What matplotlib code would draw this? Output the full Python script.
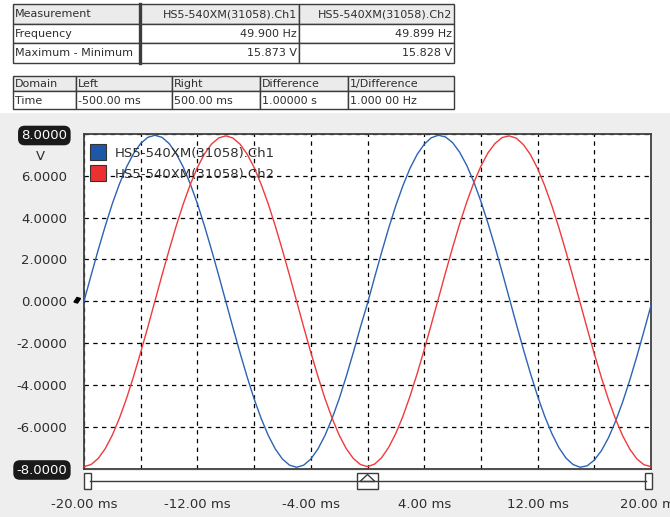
import numpy as np
import matplotlib.pyplot as plt
from matplotlib.patches import Rectangle, Polygon
from matplotlib.lines import Line2D

# Measurement tables
meas_header = ["Measurement", "HS5-540XM(31058).Ch1", "HS5-540XM(31058).Ch2"]
meas_rows = [
    ["Frequency", "49.900 Hz", "49.899 Hz"],
    ["Maximum - Minimum", "15.873 V", "15.828 V"],
]
cursor_header = ["Domain", "Left", "Right", "Difference", "1/Difference"]
cursor_row = ["Time", "-500.00 ms", "500.00 ms", "1.00000 s", "1.000 00 Hz"]

channel_names = ["HS5-540XM(31058).Ch1", "HS5-540XM(31058).Ch2"]

# Record: 81 samples, 0.5 ms apart, starting at -20 ms (values in V)
t_start_ms = -20.0
dt_ms = 0.5
ch1_volts = [
    0.00, 1.24, 2.45, 3.60, 4.67, 5.61, 6.42, 7.07, 7.55, 7.84, 7.94,
    7.84, 7.55, 7.07, 6.42, 5.61, 4.67, 3.60, 2.45, 1.24, 0.00,
    -1.24, -2.45, -3.60, -4.67, -5.61, -6.42, -7.07, -7.55, -7.84, -7.94,
    -7.84, -7.55, -7.07, -6.42, -5.61, -4.67, -3.60, -2.45, -1.24, -0.10,
    1.14, 2.35, 3.51, 4.58, 5.53, 6.36, 7.02, 7.51, 7.82, 7.94,
    7.86, 7.59, 7.13, 6.50, 5.71, 4.78, 3.73, 2.59, 1.39, 0.15,
    -1.09, -2.31, -3.46, -4.54, -5.50, -6.32, -7.00, -7.50, -7.81, -7.94,
    -7.87, -7.60, -7.15, -6.53, -5.74, -4.82, -3.78, -2.64, -1.44, -0.20,
]
ch2_volts = [
    -7.91, -7.81, -7.52, -7.05, -6.40, -5.59, -4.65, -3.59, -2.44, -1.24, 0.00,
    1.24, 2.44, 3.59, 4.65, 5.59, 6.40, 7.05, 7.52, 7.81, 7.91,
    7.81, 7.52, 7.05, 6.40, 5.59, 4.65, 3.59, 2.44, 1.24, 0.00,
    -1.24, -2.44, -3.59, -4.65, -5.59, -6.40, -7.05, -7.52, -7.81, -7.91,
    -7.79, -7.48, -6.98, -6.32, -5.50, -4.54, -3.47, -2.32, -1.11, 0.12,
    1.36, 2.56, 3.70, 4.74, 5.67, 6.46, 7.10, 7.55, 7.83, 7.91,
    7.80, 7.49, 7.01, 6.35, 5.53, 4.58, 3.52, 2.37, 1.16, -0.07,
    -1.31, -2.51, -3.65, -4.70, -5.64, -6.43, -7.07, -7.54, -7.82, -7.91,
]

x_ticks = [-20, -12, -4, 4, 12, 20]
x_grid = [-16, -8, 0, 8, 16]
y_ticks = [-8, -6, -4, -2, 0, 2, 4, 6, 8]

BLUE = "#2C63B4"
RED = "#F03A3A"
EDGE = "#3C3C3C"
TXT = "#2E2E2E"
BG = "#EEEEEE"

plt.rcParams["font.family"] = ["DejaVu Sans"]

fig = plt.figure(figsize=(6.7, 5.17), dpi=100, facecolor=BG)

# full-figure layer in pixel units for the tables and the slider
deco = fig.add_axes([0, 0, 1, 1], zorder=0)
deco.set_xlim(0, 670)
deco.set_ylim(517, 0)
deco.axis("off")
deco.add_patch(Rectangle((0, 0), 670, 113, facecolor="white", edgecolor="none"))


def draw_table(xs, ys, rows, aligns, thick_col=None, fs=8):
    for r, row in enumerate(rows):
        y0, y1 = ys[r], ys[r + 1]
        fill = "#EBEBEB" if r == 0 else "white"
        for c, text in enumerate(row):
            x0, x1 = xs[c], xs[c + 1]
            deco.add_patch(Rectangle((x0, y0), x1 - x0, y1 - y0,
                                     facecolor=fill, edgecolor=EDGE, lw=1.0))
            ha = aligns[r][c]
            tx = x0 + 2 if ha == "left" else x1 - 2
            deco.text(tx, (y0 + y1) / 2 + 0.5, text, ha=ha, va="center",
                      fontsize=fs, color=TXT)
    if thick_col is not None:
        deco.plot([xs[thick_col]] * 2, [ys[0], ys[-1]], color=EDGE, lw=2.4)


meas_aligns = [["left", "right", "right"]] * 3
draw_table([13, 140, 299, 454], [4, 23.5, 43, 62.5],
           [meas_header] + meas_rows, meas_aligns, thick_col=1)
cursor_aligns = [["left"] * 5] * 2
draw_table([13, 76, 172, 260, 348, 454], [76, 91, 109],
           [cursor_header, cursor_row], cursor_aligns)

# time slider under the graph
deco.add_patch(Rectangle((84, 471), 567, 19, facecolor="white", edgecolor="none"))
deco.plot([90, 646], [481, 481], color=EDGE, lw=1.0)
for hx in (84, 645):
    deco.add_patch(Rectangle((hx, 473), 6.5, 16, facecolor="white",
                             edgecolor=EDGE, lw=1.0))
deco.add_patch(Rectangle((357, 473), 21, 16, facecolor="white",
                         edgecolor=EDGE, lw=1.0))
deco.add_patch(Polygon([(360, 481.5), (367.5, 474.5), (375, 481.5)],
                       closed=True, fill=False, edgecolor=EDGE, lw=1.0))

# zero-level marker at the left of the graph
deco.add_patch(Polygon([(74, 302), (77, 297.5), (80.5, 298.5), (77.5, 303)],
                       closed=True, facecolor="black", edgecolor="black"))
deco.text(40, 157, "V", ha="center", va="center", fontsize=9.5, color=TXT)

# graph
W, H = 670.0, 517.0
ax = fig.add_axes([84 / W, (H - 468.5) / H, 567 / W, 334.5 / H], zorder=1)
ax.set_facecolor("white")

t = t_start_ms + dt_ms * np.arange(len(ch1_volts))
ax.plot(t, ch1_volts, color=BLUE, lw=1.0, zorder=3)
ax.plot(t, ch2_volts, color=RED, lw=1.0, zorder=3)

ax.set_xlim(-20, 20)
ax.set_ylim(-8, 8)
ax.set_xticks(x_ticks)
ax.set_xticklabels([f"{v:.2f} ms" for v in x_ticks])
ax.set_xticks(x_grid, minor=True)
ax.set_yticks(y_ticks)
ax.set_yticklabels([f"{v:.4f}" for v in y_ticks])
ax.grid(True, which="both", color="black", linestyle=(0, (3.5, 3.5)), lw=0.9)
ax.tick_params(axis="x", which="both", length=0, pad=21, labelsize=9.5,
               labelcolor=TXT)
ax.tick_params(axis="y", length=0, pad=12, labelsize=9.5, labelcolor=TXT)
for s in ax.spines.values():
    s.set_color("#404040")
    s.set_linewidth(1.3)

# end-of-range labels sit in dark rounded boxes
ylabels = ax.get_yticklabels()
for lab in (ylabels[0], ylabels[-1]):
    lab.set_color("white")
    lab.set_bbox(dict(boxstyle="round,pad=0.25,rounding_size=0.5",
                      facecolor="#1A1A1A", edgecolor="none"))

handles = [Line2D([], [], linestyle="none", marker="s", markersize=11,
                  markerfacecolor=c, markeredgecolor="#333333", markeredgewidth=0.8)
           for c in ("#1F57A8", "#EC3030")]
ax.legend(handles, channel_names, loc="upper left", frameon=False,
          bbox_to_anchor=(0.008, 0.97), fontsize=9.5, handlelength=1.0,
          handletextpad=0.75, labelspacing=0.62, borderaxespad=0.0,
          borderpad=0.2, labelcolor=TXT)

fig.savefig("out.png", dpi=100, facecolor=BG)
